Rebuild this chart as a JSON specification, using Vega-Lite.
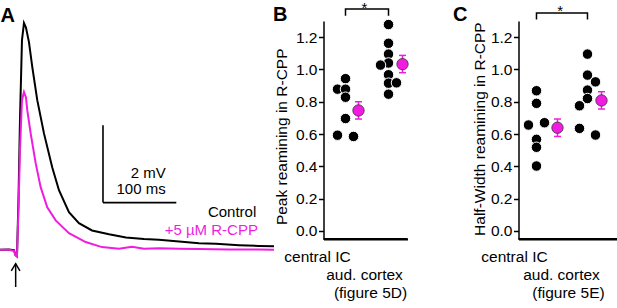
{
"$schema":"https://vega.github.io/schema/vega-lite/v6.json",
"background":"white",
"padding":{"left":-4,"top":0,"right":0,"bottom":0},
"config":{"view":{"stroke":null},"font":"Liberation Sans",
 "axis":{"labelFont":"Liberation Sans","titleFont":"Liberation Sans","labelColor":"black","titleColor":"black","domainColor":"black","tickColor":"black","grid":false,"labelFontSize":15.5,"titleFontSize":15.5,"titleFontWeight":"normal"}},
"datasets":{
 "trace":[
  {"series":"Control","t":-23.1,"v":0},{"series":"Control","t":-10.9,"v":0.01},{"series":"Control","t":-4.1,"v":-0.01},{"series":"Control","t":-2.0,"v":-0.14},{"series":"Control","t":0,"v":-0.17},{"series":"Control","t":2.05,"v":1.28},{"series":"Control","t":4.09,"v":3.35},{"series":"Control","t":6.82,"v":5.42},{"series":"Control","t":9.55,"v":5.865},{"series":"Control","t":12.27,"v":5.75},{"series":"Control","t":16.36,"v":5.37},{"series":"Control","t":20.86,"v":4.73},{"series":"Control","t":27.68,"v":3.87},{"series":"Control","t":36.82,"v":3.01},{"series":"Control","t":48.14,"v":2.13},{"series":"Control","t":57.27,"v":1.54},{"series":"Control","t":70.9,"v":0.97},{"series":"Control","t":84.5,"v":0.69},{"series":"Control","t":102.3,"v":0.5},{"series":"Control","t":125.5,"v":0.4},{"series":"Control","t":148.6,"v":0.32},{"series":"Control","t":173.2,"v":0.28},{"series":"Control","t":193.6,"v":0.26},{"series":"Control","t":225.0,"v":0.21},{"series":"Control","t":248.2,"v":0.17},{"series":"Control","t":271.4,"v":0.155},{"series":"Control","t":302.7,"v":0.12},{"series":"Control","t":330.0,"v":0.1},{"series":"Control","t":350.5,"v":0.09},
  {"series":"R-CPP","t":-23.1,"v":0},{"series":"R-CPP","t":-10.9,"v":0},{"series":"R-CPP","t":-4.1,"v":-0.03},{"series":"R-CPP","t":-2.0,"v":-0.14},{"series":"R-CPP","t":0,"v":-0.17},{"series":"R-CPP","t":2.05,"v":1.02},{"series":"R-CPP","t":4.09,"v":2.57},{"series":"R-CPP","t":6.82,"v":3.87},{"series":"R-CPP","t":9.55,"v":4.08},{"series":"R-CPP","t":12.27,"v":3.94},{"series":"R-CPP","t":14.05,"v":3.61},{"series":"R-CPP","t":18.68,"v":3.01},{"series":"R-CPP","t":25.5,"v":2.24},{"series":"R-CPP","t":32.3,"v":1.62},{"series":"R-CPP","t":41.3,"v":1.1},{"series":"R-CPP","t":52.8,"v":0.76},{"series":"R-CPP","t":70.9,"v":0.43},{"series":"R-CPP","t":93.7,"v":0.2},{"series":"R-CPP","t":115.9,"v":0.07},{"series":"R-CPP","t":139.1,"v":0.03},{"series":"R-CPP","t":156.8,"v":0.08},{"series":"R-CPP","t":173.2,"v":0.03},{"series":"R-CPP","t":193.6,"v":0.04},{"series":"R-CPP","t":220.9,"v":0.03},{"series":"R-CPP","t":248.2,"v":0.02},{"series":"R-CPP","t":289.1,"v":0.01},{"series":"R-CPP","t":330,"v":0.005},{"series":"R-CPP","t":350.5,"v":0}
 ],
 "frameA":[{"t":-24.5,"v":6.452,"t2":-24.5,"v2":5.917}],
 "scalebar":[{"t":117.3,"v":3.22,"t2":117.3,"v2":1.221},{"t":117.3,"v":1.221,"t2":217.3,"v2":1.221}],
 "arrowStem":[{"t":-1.77,"v":-0.36,"t2":-1.77,"v2":-0.962}],
 "arrowHead":[{"t":-7.77,"v":-0.548,"ord":1},{"t":-1.77,"v":-0.36,"ord":2},{"t":4.09,"v":-0.548,"ord":3}],
 "labelsA":[{"t":202.8,"v":1.991,"label":"2 mV","series":"Control"},{"t":202.8,"v":1.577,"label":"100 ms","series":"Control"},{"t":326.3,"v":0.983,"label":"Control","series":"Control"},{"t":328.6,"v":0.504,"label":"+5 µM R-CPP","series":"R-CPP"}],
 "panelA":[{"t":-22.5,"v":5.891,"label":"A"}],
 "dotsB":[
  {"group":"central IC","value":0.943,"col":"M"},{"group":"central IC","value":0.878,"col":"L"},{"group":"central IC","value":0.878,"col":"M"},{"group":"central IC","value":0.828,"col":"M"},{"group":"central IC","value":0.696,"col":"M"},{"group":"central IC","value":0.593,"col":"L"},{"group":"central IC","value":0.585,"col":"R"},
  {"group":"aud. cortex (figure 5D)","value":1.278,"col":"M"},{"group":"aud. cortex (figure 5D)","value":1.162,"col":"M"},{"group":"aud. cortex (figure 5D)","value":1.095,"col":"M"},{"group":"aud. cortex (figure 5D)","value":1.04,"col":"M"},{"group":"aud. cortex (figure 5D)","value":1.027,"col":"L"},{"group":"aud. cortex (figure 5D)","value":0.967,"col":"M"},{"group":"aud. cortex (figure 5D)","value":0.915,"col":"M"},{"group":"aud. cortex (figure 5D)","value":0.917,"col":"R"},{"group":"aud. cortex (figure 5D)","value":0.847,"col":"M"}
 ],
 "meanB":[{"group":"central IC","value":0.746},{"group":"aud. cortex (figure 5D)","value":1.033}],
 "errB":[{"group":"central IC","value":0.693,"hi":0.8},{"group":"aud. cortex (figure 5D)","value":0.98,"hi":1.087}],
 "capsB":[{"group":"central IC","value":0.693},{"group":"central IC","value":0.8},{"group":"aud. cortex (figure 5D)","value":0.98},{"group":"aud. cortex (figure 5D)","value":1.087}],
 "bracketB":[{"group":"central IC","value":1.3325,"ord":1},{"group":"central IC","value":1.3746,"ord":2},{"group":"aud. cortex (figure 5D)","value":1.3746,"ord":3},{"group":"aud. cortex (figure 5D)","value":1.3325,"ord":4}],
 "starB":[{"group":"central IC","value":1.3465,"label":"*"}],
 "panelB":[{"group":"central IC","value":1.3003,"label":"B"}],
 "baseB":[{"group":"central IC","group2":"aud. cortex (figure 5D)","value":-0.05}],
 "xlabBc":[{"group":"central IC","value":-0.05,"label":"central IC"}],
 "xlabBa1":[{"group":"aud. cortex (figure 5D)","value":-0.05,"label":"aud. cortex"}],
 "xlabBa2":[{"group":"aud. cortex (figure 5D)","value":-0.05,"label":"(figure 5D)"}],
 "dotsC":[
  {"group":"central IC","value":0.868,"col":"M"},{"group":"central IC","value":0.79,"col":"M"},{"group":"central IC","value":0.656,"col":"L"},{"group":"central IC","value":0.67,"col":"R"},{"group":"central IC","value":0.567,"col":"M"},{"group":"central IC","value":0.518,"col":"M"},{"group":"central IC","value":0.402,"col":"M"},
  {"group":"aud. cortex (figure 5E)","value":1.095,"col":"M"},{"group":"aud. cortex (figure 5E)","value":0.965,"col":"M"},{"group":"aud. cortex (figure 5E)","value":0.923,"col":"R"},{"group":"aud. cortex (figure 5E)","value":0.872,"col":"M"},{"group":"aud. cortex (figure 5E)","value":0.82,"col":"M"},{"group":"aud. cortex (figure 5E)","value":0.775,"col":"L"},{"group":"aud. cortex (figure 5E)","value":0.635,"col":"L"},{"group":"aud. cortex (figure 5E)","value":0.594,"col":"R"}
 ],
 "meanC":[{"group":"central IC","value":0.639},{"group":"aud. cortex (figure 5E)","value":0.808}],
 "errC":[{"group":"central IC","value":0.585,"hi":0.693},{"group":"aud. cortex (figure 5E)","value":0.755,"hi":0.862}],
 "capsC":[{"group":"central IC","value":0.585},{"group":"central IC","value":0.693},{"group":"aud. cortex (figure 5E)","value":0.755},{"group":"aud. cortex (figure 5E)","value":0.862}],
 "bracketC":[{"group":"central IC","value":1.309,"ord":1},{"group":"central IC","value":1.35,"ord":2},{"group":"aud. cortex (figure 5E)","value":1.35,"ord":3},{"group":"aud. cortex (figure 5E)","value":1.309,"ord":4}],
 "starC":[{"group":"central IC","value":1.334,"label":"*"}],
 "panelC":[{"group":"central IC","value":1.3003,"label":"C"}],
 "baseC":[{"group":"central IC","group2":"aud. cortex (figure 5E)","value":-0.05}],
 "xlabCc":[{"group":"central IC","value":-0.05,"label":"central IC"}],
 "xlabCa1":[{"group":"aud. cortex (figure 5E)","value":-0.05,"label":"aud. cortex"}],
 "xlabCa2":[{"group":"aud. cortex (figure 5E)","value":-0.05,"label":"(figure 5E)"}]
},
"bounds":"flush",
"spacing":49.5,
"hconcat":[
 {
  "width":275,"height":218,
  "encoding":{
   "x":{"field":"t","type":"quantitative","scale":{"domain":[-24.5,350.5],"nice":false,"zero":false},"axis":null},
   "y":{"field":"v","type":"quantitative","scale":{"domain":[0.279,5.917],"nice":false,"zero":false},"axis":null}
  },
  "layer":[
   {"data":{"name":"frameA"},"mark":{"type":"rule","strokeWidth":0,"opacity":0},"encoding":{"x2":{"field":"t2"},"y2":{"field":"v2"}}},
   {"data":{"name":"trace"},"mark":{"type":"line","strokeWidth":2},"encoding":{"color":{"field":"series","type":"nominal","scale":{"domain":["Control","R-CPP"],"range":["#000000","#f01ce0"]},"legend":null}}},
   {"data":{"name":"scalebar"},"mark":{"type":"rule","strokeWidth":1.6,"color":"black"},"encoding":{"x2":{"field":"t2"},"y2":{"field":"v2"}}},
   {"data":{"name":"arrowStem"},"mark":{"type":"rule","strokeWidth":1.5,"color":"black"},"encoding":{"x2":{"field":"t2"},"y2":{"field":"v2"}}},
   {"data":{"name":"arrowHead"},"mark":{"type":"line","strokeWidth":1.5,"color":"black"},"encoding":{"order":{"field":"ord","type":"quantitative"}}},
   {"data":{"name":"labelsA"},"mark":{"type":"text","align":"right","baseline":"middle","fontSize":15},"encoding":{"text":{"field":"label"},"color":{"field":"series","type":"nominal","scale":{"domain":["Control","R-CPP"],"range":["#000000","#f01ce0"]},"legend":null}}},
   {"data":{"name":"panelA"},"mark":{"type":"text","align":"left","baseline":"alphabetic","fontSize":20,"fontWeight":"bold","color":"black"},"encoding":{"text":{"field":"label"}}}
  ]
 },
 {
  "bounds":"flush",
  "spacing":111,
  "hconcat":[
   {
    "width":84,"height":218,
    "resolve":{"scale":{"xOffset":"independent"}},
    "encoding":{
     "x":{"field":"group","type":"nominal","scale":{"type":"point","domain":["central IC","aud. cortex (figure 5D)"],"padding":0.4767,"align":0.5366},
      "axis":{"title":null,"ticks":false,"domain":true,"domainColor":"black","domainWidth":2,"labelExpr":"''"}},
     "y":{"field":"value","type":"quantitative","scale":{"domain":[-0.05,1.3],"nice":false,"zero":false},
      "axis":{"title":"Peak reamining in R-CPP","values":[0,0.2,0.4,0.6,0.8,1,1.2],"format":".1f","tickSize":5,"tickWidth":1.5,"labelPadding":1.5,"domainWidth":1.5,"titleX":-37,"titleY":115.3,"titleAlign":"center","titleBaseline":"alphabetic"}}
    },
    "layer":[
     {"data":{"name":"baseB"},"mark":{"type":"rule","strokeWidth":2,"color":"black","xOffset":-22,"x2Offset":19},"encoding":{"x2":{"field":"group2"}}},
     {"data":{"name":"bracketB"},"mark":{"type":"line","strokeWidth":1.5,"color":"black"},"encoding":{"order":{"field":"ord","type":"quantitative"}}},
     {"data":{"name":"starB"},"mark":{"type":"text","fontSize":15,"align":"center","baseline":"alphabetic","dx":19,"color":"black"},"encoding":{"text":{"field":"label"}}},
     {"data":{"name":"panelB"},"mark":{"type":"text","fontSize":20,"fontWeight":"bold","align":"left","baseline":"alphabetic","dx":-72.5,"color":"black"},"encoding":{"text":{"field":"label"}}},
     {"data":{"name":"xlabBc"},"mark":{"type":"text","fontSize":15.5,"align":"center","baseline":"middle","xOffset":-28,"yOffset":17.5,"color":"black"},"encoding":{"text":{"field":"label"}}},
     {"data":{"name":"xlabBa1"},"mark":{"type":"text","fontSize":15.5,"align":"center","baseline":"middle","xOffset":-24,"yOffset":35.5,"color":"black"},"encoding":{"text":{"field":"label"}}},
     {"data":{"name":"xlabBa2"},"mark":{"type":"text","fontSize":15.5,"align":"center","baseline":"middle","xOffset":-18,"yOffset":53.5,"color":"black"},"encoding":{"text":{"field":"label"}}},
     {"data":{"name":"dotsB"},"mark":{"type":"point","filled":true,"fill":"black","stroke":"white","strokeWidth":1,"opacity":1,"size":110},"encoding":{"xOffset":{"field":"col","type":"nominal","scale":{"type":"point","domain":["L","M","R"],"range":[-8,8],"padding":0}}}},
     {"data":{"name":"errB"},"mark":{"type":"rule","strokeWidth":1.5,"color":"#f01ce0"},"encoding":{"y2":{"field":"hi"},"xOffset":{"field":"group","type":"nominal","scale":{"type":"point","domain":["central IC","aud. cortex (figure 5D)"],"range":[13,14],"padding":0}}}},
     {"data":{"name":"capsB"},"mark":{"type":"tick","orient":"horizontal","size":7,"thickness":1.5,"color":"#f01ce0","opacity":1},"encoding":{"xOffset":{"field":"group","type":"nominal","scale":{"type":"point","domain":["central IC","aud. cortex (figure 5D)"],"range":[13,14],"padding":0}}}},
     {"data":{"name":"meanB"},"mark":{"type":"point","filled":true,"fill":"#f01ce0","stroke":"#333333","strokeWidth":0.8,"opacity":1,"size":130},"encoding":{"xOffset":{"field":"group","type":"nominal","scale":{"type":"point","domain":["central IC","aud. cortex (figure 5D)"],"range":[13,14],"padding":0}}}}
    ]
   },
   {
    "width":100,"height":218,
    "resolve":{"scale":{"xOffset":"independent"}},
    "encoding":{
     "x":{"field":"group","type":"nominal","scale":{"type":"point","domain":["central IC","aud. cortex (figure 5E)"],"padding":0.4804,"align":0.367},
      "axis":{"title":null,"ticks":false,"domain":true,"domainColor":"black","domainWidth":2,"labelExpr":"''"}},
     "y":{"field":"value","type":"quantitative","scale":{"domain":[-0.05,1.3],"nice":false,"zero":false},
      "axis":{"title":"Half-Width reamining in R-CPP","values":[0,0.2,0.4,0.6,0.8,1,1.2],"format":".1f","tickSize":5,"tickWidth":1.5,"labelPadding":1.5,"domainWidth":1.5,"titleX":-34,"titleY":107.6,"titleAlign":"center","titleBaseline":"alphabetic"}}
    },
    "layer":[
     {"data":{"name":"baseC"},"mark":{"type":"rule","strokeWidth":2,"color":"black","xOffset":-18,"x2Offset":31},"encoding":{"x2":{"field":"group2"}}},
     {"data":{"name":"bracketC"},"mark":{"type":"line","strokeWidth":1.5,"color":"black"},"encoding":{"order":{"field":"ord","type":"quantitative"}}},
     {"data":{"name":"starC"},"mark":{"type":"text","fontSize":15,"align":"center","baseline":"alphabetic","dx":23.7,"color":"black"},"encoding":{"text":{"field":"label"}}},
     {"data":{"name":"panelC"},"mark":{"type":"text","fontSize":20,"fontWeight":"bold","align":"left","baseline":"alphabetic","dx":-83.5,"color":"black"},"encoding":{"text":{"field":"label"}}},
     {"data":{"name":"xlabCc"},"mark":{"type":"text","fontSize":15.5,"align":"center","baseline":"middle","xOffset":-22,"yOffset":17.5,"color":"black"},"encoding":{"text":{"field":"label"}}},
     {"data":{"name":"xlabCa1"},"mark":{"type":"text","fontSize":15.5,"align":"center","baseline":"middle","xOffset":-26,"yOffset":35.5,"color":"black"},"encoding":{"text":{"field":"label"}}},
     {"data":{"name":"xlabCa2"},"mark":{"type":"text","fontSize":15.5,"align":"center","baseline":"middle","xOffset":-19,"yOffset":53.5,"color":"black"},"encoding":{"text":{"field":"label"}}},
     {"data":{"name":"dotsC"},"mark":{"type":"point","filled":true,"fill":"black","stroke":"white","strokeWidth":1,"opacity":1,"size":110},"encoding":{"xOffset":{"field":"col","type":"nominal","scale":{"type":"point","domain":["L","M","R"],"range":[-8,8],"padding":0}}}},
     {"data":{"name":"errC"},"mark":{"type":"rule","strokeWidth":1.5,"color":"#f01ce0"},"encoding":{"y2":{"field":"hi"},"xOffset":{"field":"group","type":"nominal","scale":{"type":"point","domain":["central IC","aud. cortex (figure 5E)"],"range":[21,14],"padding":0}}}},
     {"data":{"name":"capsC"},"mark":{"type":"tick","orient":"horizontal","size":7,"thickness":1.5,"color":"#f01ce0","opacity":1},"encoding":{"xOffset":{"field":"group","type":"nominal","scale":{"type":"point","domain":["central IC","aud. cortex (figure 5E)"],"range":[21,14],"padding":0}}}},
     {"data":{"name":"meanC"},"mark":{"type":"point","filled":true,"fill":"#f01ce0","stroke":"#333333","strokeWidth":0.8,"opacity":1,"size":130},"encoding":{"xOffset":{"field":"group","type":"nominal","scale":{"type":"point","domain":["central IC","aud. cortex (figure 5E)"],"range":[21,14],"padding":0}}}}
    ]
   }
  ]
 }
]
}
